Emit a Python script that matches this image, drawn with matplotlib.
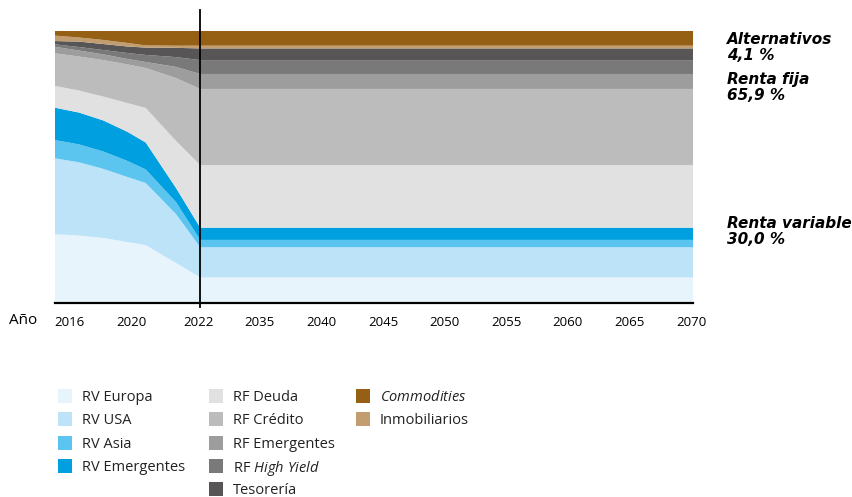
import matplotlib
matplotlib.use('Agg')
import matplotlib.pyplot as plt
from matplotlib.patches import Rectangle

plt.rcParams['font.family'] = ['Open Sans', 'DejaVu Sans']
plt.rcParams['mathtext.fontset'] = 'custom'
plt.rcParams['mathtext.rm'] = 'Open Sans'
plt.rcParams['mathtext.it'] = 'Open Sans:italic'

# periods of the glide path: history year by year, then flat to 2070
periods = [2016, 2017, 2018, 2019, 2019.75, 2021, 2022, 2070]

# weights in %
rv_europa = [25.3, 24.8, 23.9, 22.4, 21.3, 14.7, 9.4, 9.4]
rv_usa = [27.9, 26.9, 25.4, 23.9, 22.8, 18.0, 11.1, 11.1]
rv_asia = [6.7, 6.6, 6.4, 5.9, 5.0, 4.4, 2.7, 2.7]
rv_emergentes = [11.9, 11.7, 11.4, 10.7, 9.9, 5.2, 4.5, 4.5]
rf_deuda = [8.0, 8.1, 8.8, 10.6, 12.7, 17.3, 23.0, 23.0]
rf_credito = [12.0, 12.5, 13.4, 14.2, 14.7, 23.1, 28.0, 28.0]
rf_emergentes = [2.4, 2.2, 2.1, 2.0, 2.2, 4.1, 5.5, 5.5]
rf_high_yield = [0.9, 1.3, 1.6, 2.2, 2.6, 3.6, 5.1, 5.1]
tesoreria = [1.2, 2.0, 2.2, 2.4, 2.7, 3.4, 4.3, 4.3]
inmobiliarios = [2.0, 1.5, 1.5, 1.3, 0.8, 0.8, 1.0, 1.0]
commodities = [1.7, 2.4, 3.3, 4.4, 5.3, 5.4, 5.4, 5.4]

series = [rv_europa, rv_usa, rv_asia, rv_emergentes, rf_deuda, rf_credito,
          rf_emergentes, rf_high_yield, tesoreria, inmobiliarios, commodities]
labels = ['RV Europa', 'RV USA', 'RV Asia', 'RV Emergentes',
          'RF Deuda', 'RF Crédito', 'RF Emergentes', 'RF $\\it{High\\ Yield}$',
          'Tesorería', 'Inmobiliarios', '$\\it{Commodities}$']
colors = ['#e8f4fc', '#bce3f8', '#5bc5f0', '#009fe0',
          '#e1e1e1', '#bdbcbd', '#9d9d9d', '#7a797a',
          '#575556', '#c29d70', '#956014']

tick_labels = ['2016', '2020', '2022', '2035', '2040', '2045',
               '2050', '2055', '2060', '2065', '2070']

# summary shares shown on the right
summary = [('Alternativos', '4,1 %'), ('Renta fija', '65,9 %'),
           ('Renta variable', '30,0 %')]


def to_x(year):
    # 2016-2022 year by year, after 2022 every 5-year step gets the same width
    if year <= 2022:
        return year - 2016
    return 6 + (year - 2030) / 5 * 2.545


x = [to_x(p) for p in periods]
tick_pos = [0.59, 3.15, 5.92] + [to_x(int(t)) - 0.08 for t in tick_labels[3:]]

W, H = 852, 497
fig = plt.figure(figsize=(W / 100, H / 100), dpi=100)
ax = fig.add_axes([55 / W, 194 / H, 638 / W, 272 / H])

polys = ax.stackplot(x, series, colors=colors, labels=labels, linewidth=0)

ax.set_xlim(0, to_x(2070))
ax.set_ylim(0, 100)
for side in ['top', 'right', 'left']:
    ax.spines[side].set_visible(False)
ax.spines['bottom'].set_linewidth(1.6)
ax.set_yticks([])
ax.set_xticks(tick_pos)
ax.set_xticklabels(tick_labels, fontsize=9.5)
ax.tick_params(axis='x', length=0, pad=9)

# line marking today
ax.plot([6, 6], [-1.5, 107.7], color='black', lw=1.3, clip_on=False)

fig.text(9 / W, 1 - 321 / H, 'Año', fontsize=11, va='center', ha='left')

# summary labels on the right
tops = [32, 72, 216]
for (name, share), top in zip(summary, tops):
    fig.text(727 / W, 1 - top / H, name + '\n' + share,
             family='DejaVu Sans', fontweight='bold', fontstyle='oblique',
             fontsize=11, va='top', ha='left', linespacing=1.1)

# legend in three columns, drawn entry by entry
columns = [[0, 1, 2, 3], [4, 5, 6, 7, 8], [10, 9]]
col_left = [58, 209, 356]
row_y = [396, 419.2, 442.5, 465.8, 489]
box = 14
for col, left in zip(columns, col_left):
    for row, i in enumerate(col):
        yc = row_y[row]
        fig.add_artist(Rectangle((left / W, 1 - (yc + box / 2) / H),
                                 box / W, box / H, transform=fig.transFigure,
                                 facecolor=colors[i], edgecolor='none'))
        fig.text((left + box + 10) / W, 1 - (yc - 0.5) / H, labels[i],
                 fontsize=10.5, color='#222222', va='center_baseline',
                 ha='left')

fig.savefig('out.png', dpi=100)
